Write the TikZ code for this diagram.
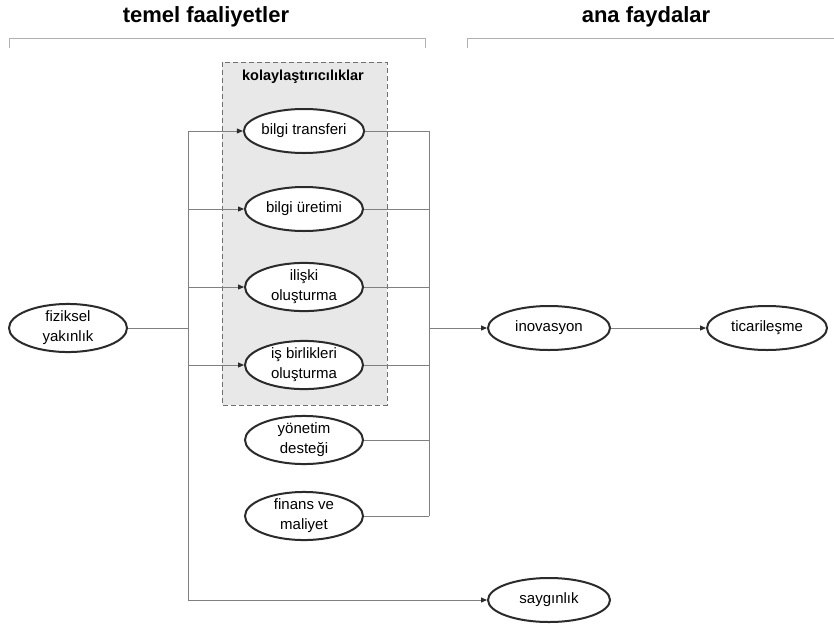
\documentclass[tikz,border=0pt]{standalone}
\usepackage{fontspec}
\setmainfont{Liberation Sans}
\usetikzlibrary{shapes.geometric,arrows.meta}
\definecolor{linegray}{HTML}{808080}
\definecolor{ovalline}{HTML}{2B2B2B}
\definecolor{boxfill}{HTML}{E8E8E8}
\definecolor{boxline}{HTML}{707070}
\definecolor{bracketgray}{HTML}{B0B0B0}
\tikzset{
  oval/.style={ellipse, draw=ovalline, line width=2pt, fill=white,
    minimum width=118pt, minimum height=44pt, inner sep=0pt, align=center,
    font=\fontsize{15}{20}\selectfont},
  link/.style={draw=linegray, line width=0.9pt},
  arr/.style={link, -{Triangle[length=6pt,width=5pt,color=ovalline]}},
  title/.style={font=\fontsize{22}{24}\selectfont\bfseries},
  bracket/.style={draw=bracketgray, line width=0.8pt},
  groupbox/.style={draw=boxline, dashed, dash pattern=on 5pt off 3pt, fill=boxfill, line width=0.9pt}
}
\begin{document}
\begin{tikzpicture}[x=1pt,y=-1pt]
\useasboundingbox (0,0) rectangle (834,629);
\fill[white] (0,0) rectangle (834,629);

% section headings and brackets
\node[title] (h1) at (206,17) {temel faaliyetler};
\node[title] (h2) at (646,17) {ana faydalar};
\draw[bracket] (9,48) -- (9,38) -- (425,38) -- (425,48);
\draw[bracket] (467,48) -- (467,38) -- (834,38);

% facilitators group
\draw[groupbox] (222,62) rectangle (387,405);
\node[font=\fontsize{14.5}{16}\selectfont\bfseries] (glabel) at (303,77) {kolaylaştırıcılıklar};

% nodes
\node[oval] (fy) at (68,328) {fiziksel\\yakınlık};
\node[oval] (bt) at (304,131) {bilgi transferi};
\node[oval] (bu) at (304,209) {bilgi üretimi};
\node[oval] (io) at (304,287) {ilişki\\oluşturma};
\node[oval] (ib) at (304,365) {iş birlikleri\\oluşturma};
\node[oval] (yd) at (304,440) {yönetim\\desteği};
\node[oval] (fm) at (304,516) {finans ve\\maliyet};
\node[oval, minimum width=122pt] (in) at (549,328) {inovasyon};
\node[oval, minimum width=120pt] (ti) at (767,328) {ticarileşme};
\node[oval, minimum width=122pt] (sa) at (549,600) {saygınlık};

% junction points
\coordinate (jl) at (188,328);
\coordinate (jr) at (429,328);

% left distribution
\draw[link] (fy.east) -- (jl);
\draw[link] (jl |- bt.west) -- (jl |- sa.west);
\foreach \n in {bt,bu,io,ib,sa}
  \draw[arr] (jl |- \n.west) -- (\n.west);

% right collection
\draw[link] (jr |- bt.east) -- (jr |- fm.east);
\foreach \n in {bt,bu,io,ib,yd,fm}
  \draw[link] (\n.east) -- (jr |- \n.east);
\draw[arr] (jr) -- (in.west);
\draw[arr] (in.east) -- (ti.west);
\end{tikzpicture}
\end{document}
